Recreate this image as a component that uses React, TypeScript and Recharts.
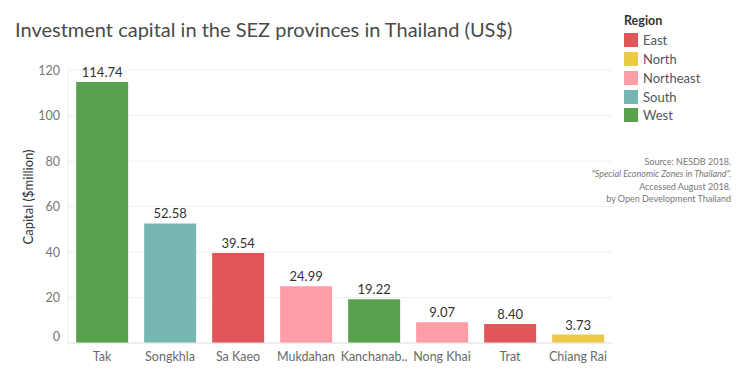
import React from 'react';
import { BarChart, Bar, XAxis, YAxis, CartesianGrid, Cell, LabelList } from 'recharts';

const provinces = ['Tak', 'Songkhla', 'Sa Kaeo', 'Mukdahan', 'Kanchanab..', 'Nong Khai', 'Trat', 'Chiang Rai'];
const capital = [114.74, 52.58, 39.54, 24.99, 19.22, 9.07, 8.4, 3.73];
const provinceRegions = ['West', 'South', 'East', 'Northeast', 'West', 'Northeast', 'East', 'North'];
const legendRegions = ['East', 'North', 'Northeast', 'South', 'West'];
const regionColors = ['#e15759', '#edc948', '#ff9da7', '#76b7b2', '#59a14f'];
const yTicks = [0, 20, 40, 60, 80, 100, 120];
const sourceLines = ['Source: NESDB 2018.', '"Special Economic Zones in Thailand".', 'Accessed August 2018.', 'by Open Development Thailand'];

const colorOf = (r: string) => regionColors[legendRegions.indexOf(r)];

const data = provinces.map((p, i) => ({ province: p, capital: capital[i], region: provinceRegions[i] }));

const FONT = 'Lato, "Open Sans", sans-serif';

const YTick = (props: any) => {
  const { x, y, payload } = props;
  const shift = payload.value === 0 ? -7 : 0;
  return (
    <text x={x} y={y + shift} dy={4.5} textAnchor="end" fill="#777" fontSize={12.5} fontFamily={FONT}>
      {payload.value}
    </text>
  );
};

export default function App() {
  return (
    <div style={{ position: 'absolute', left: 0, top: 0, width: 750, height: 375, background: '#fff', fontFamily: FONT }}>
      <BarChart width={750} height={375} data={data} margin={{ top: 70, right: 138, bottom: 2, left: 0 }} barCategoryGap="12%">
        <CartesianGrid vertical={false} stroke="#f0f0f0" />
        <XAxis
          dataKey="province"
          tickLine={false}
          axisLine={{ stroke: '#e6e6e6' }}
          interval={0}
          tick={{ fill: '#6a6a6a', fontSize: 12.5, fontFamily: FONT }}
          tickMargin={3}
        />
        <YAxis
          width={68}
          domain={[0, 120]}
          ticks={yTicks}
          tickLine={false}
          axisLine={{ stroke: '#ececec' }}
          tick={<YTick />}
        />
        <Bar dataKey="capital" isAnimationActive={false}>
          {data.map((d, i) => (
            <Cell key={i} fill={colorOf(d.region)} />
          ))}
          <LabelList dataKey="capital" position="top" offset={5} formatter={(v: number) => v.toFixed(2)} style={{ fill: '#333', fontSize: 13, fontFamily: FONT }} />
        </Bar>
      </BarChart>
      <svg width={750} height={375} style={{ position: 'absolute', left: 0, top: 0, pointerEvents: 'none' }}>
        <text x={33} y={197} transform="rotate(-90 33 197)" textAnchor="middle" fill="#333" fontSize={13} fontFamily={FONT}>
          Capital ($million)
        </text>
      </svg>
      <div style={{ position: 'absolute', left: 15, top: 17, fontSize: 20, color: '#4a4a4a', whiteSpace: 'nowrap' }}>
        Investment capital in the SEZ provinces in Thailand (US$)
      </div>
      <div style={{ position: 'absolute', left: 624, top: 13, fontSize: 13, color: '#333' }}>
        <div style={{ fontWeight: 'bold', fontSize: 12.5, height: 18 }}>Region</div>
        {legendRegions.map((r, i) => (
          <div key={r} style={{ display: 'flex', alignItems: 'center', height: 18.75 }}>
            <div style={{ width: 14, height: 14, background: regionColors[i], marginRight: 5 }} />
            <span style={{ color: '#555' }}>{r}</span>
          </div>
        ))}
      </div>
      <div style={{ position: 'absolute', right: 19, top: 156, fontSize: 9, color: '#777', textAlign: 'right', lineHeight: '12.3px', whiteSpace: 'nowrap' }}>
        {sourceLines.map((l, i) => (
          <div key={i} style={{ fontStyle: i === 1 ? 'italic' : 'normal' }}>{l}</div>
        ))}
      </div>
    </div>
  );
}
